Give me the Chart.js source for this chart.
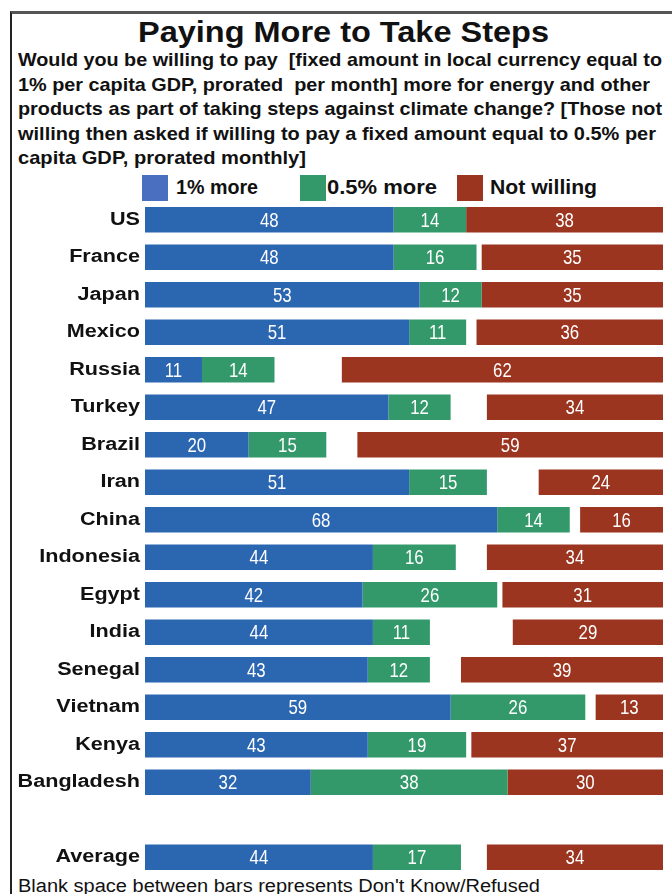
<!DOCTYPE html>
<html>
<head>
<meta charset="utf-8">
<script src="https://cdn.jsdelivr.net/npm/chart.js@4/dist/chart.umd.min.js"></script>
<style>
  html, body { margin: 0; padding: 0; background: #fff; }
  body { width: 672px; height: 894px; position: relative; overflow: hidden; font-family: "Liberation Sans", Arial, sans-serif; color: #111; }
  #frame { position: absolute; left: 10px; top: 11px; width: 680px; height: 900px; border-top: 3px solid #555; border-left: 2px solid #222; }
  .t { position: absolute; white-space: nowrap; transform-origin: left top; }
  #title { top: 18px; font-weight: bold; font-size: 29px; line-height: 29px; }
  .sub { left: 18px; font-weight: bold; font-size: 18.5px; line-height: 24.5px; }
  .lg { top: 177px; font-weight: bold; font-size: 20px; line-height: 20px; }
  .sq { position: absolute; top: 175px; width: 26px; height: 26px; }
  #foot { left: 18px; top: 877px; font-size: 18px; line-height: 18px; }
  #wrap { position: absolute; left: 0; top: 0; width: 672px; height: 894px; }
</style>
</head>
<body>
<div id="frame"></div>
<div id="title" class="t" data-w="411" style="left:138px">Paying More to Take Steps</div>
<div class="t sub" data-w="644" style="top:48px">Would you be willing to pay&nbsp; [fixed amount in local currency equal to</div>
<div class="t sub" data-w="632" style="top:72.5px">1% per capita GDP, prorated&nbsp; per month] more for energy and other</div>
<div class="t sub" data-w="644" style="top:97px">products as part of taking steps against climate change? [Those not</div>
<div class="t sub" data-w="638" style="top:121.5px">willing then asked if willing to pay a fixed amount equal to 0.5% per</div>
<div class="t sub" data-w="288" style="top:146px">capita GDP, prorated monthly]</div>
<div class="sq" style="left:142px;background:#4a6fc0"></div>
<div class="t lg" data-w="82" style="left:176px">1% more</div>
<div class="sq" style="left:300px;background:#33996a"></div>
<div class="t lg" data-w="110" style="left:327px">0.5% more</div>
<div class="sq" style="left:457px;background:#9b3520"></div>
<div class="t lg" data-w="107" style="left:490px">Not willing</div>
<div id="foot" class="t" data-w="522">Blank space between bars represents Don't Know/Refused</div>
<div id="wrap"><canvas id="chart"></canvas></div>
<script>
const countries = ['US', 'France', 'Japan', 'Mexico', 'Russia', 'Turkey', 'Brazil', 'Iran', 'China',
    'Indonesia', 'Egypt', 'India', 'Senegal', 'Vietnam', 'Kenya', 'Bangladesh', '', 'Average'];
const onePercent = [48, 48, 53, 51, 11, 47, 20, 51, 68, 44, 42, 44, 43, 59, 43, 32, null, 44];
const halfPercent = [14, 16, 12, 11, 14, 12, 15, 15, 14, 16, 26, 11, 12, 26, 19, 38, null, 17];
const dontKnow = [0, 1, 0, 2, 13, 7, 6, 10, 2, 6, 1, 16, 6, 2, 1, 0, null, 5];
const notWilling = [38, 35, 35, 36, 62, 34, 59, 24, 16, 34, 31, 29, 39, 13, 37, 30, null, 34];

const BLUE = '#2b66b1';
const GREEN = '#33996a';
const RED = '#9b3520';

// stretch the html text to the widths seen in the reference
document.querySelectorAll('[data-w]').forEach(el => {
    const w = el.getBoundingClientRect().width;
    el.style.transform = `scaleX(${Number(el.dataset.w) / w})`;
});

// category names, drawn a bit wide like the original
const rowLabels = {
    id: 'rowLabels',
    afterDraw(chart) {
        const ctx = chart.ctx;
        const yScale = chart.scales.y;
        ctx.save();
        ctx.fillStyle = '#111';
        ctx.font = 'bold 18px "Liberation Sans", Arial, sans-serif';
        ctx.textAlign = 'right';
        ctx.textBaseline = 'middle';
        countries.forEach((name, i) => {
            if (!name) return;
            ctx.save();
            ctx.translate(140, yScale.getPixelForValue(i));
            ctx.scale(1.2, 1);
            ctx.fillText(name, 0, 0);
            ctx.restore();
        });
        ctx.restore();
    }
};

const barLabels = {
    id: 'barLabels',
    afterDatasetsDraw(chart) {
        const ctx = chart.ctx;
        ctx.save();
        ctx.fillStyle = '#fff';
        ctx.font = '21px "Liberation Sans", Arial, sans-serif';
        ctx.textAlign = 'center';
        ctx.textBaseline = 'middle';
        chart.data.datasets.forEach((ds, i) => {
            if (ds.hideLabel) return;
            chart.getDatasetMeta(i).data.forEach((bar, j) => {
                const v = ds.data[j];
                if (v == null) return;
                ctx.save();
                ctx.translate((bar.x + bar.base) / 2, bar.y + 1);
                ctx.scale(0.8, 1);
                ctx.fillText(v, 0, 0);
                ctx.restore();
            });
        });
        ctx.restore();
    }
};

const common = { barPercentage: 0.68, categoryPercentage: 1, borderWidth: 0 };

new Chart(document.getElementById('chart'), {
    type: 'bar',
    data: {
        labels: countries,
        datasets: [
            { label: '1% more', data: onePercent, backgroundColor: BLUE, ...common },
            { label: '0.5% more', data: halfPercent, backgroundColor: GREEN, ...common },
            { label: "Don't know", data: dontKnow, backgroundColor: 'rgba(0,0,0,0)', hideLabel: true, ...common },
            { label: 'Not willing', data: notWilling, backgroundColor: RED, ...common }
        ]
    },
    options: {
        indexAxis: 'y',
        responsive: true,
        maintainAspectRatio: false,
        animation: false,
        layout: { padding: { top: 201, bottom: 18, left: 0, right: 9 } },
        plugins: {
            legend: { display: false },
            tooltip: { enabled: false }
        },
        scales: {
            x: { stacked: true, min: 0, max: 100, display: false },
            y: {
                stacked: true,
                grid: { display: false },
                border: { display: false },
                ticks: { display: false },
                afterFit(scale) { scale.width = 145; }
            }
        }
    },
    plugins: [barLabels, rowLabels]
});
</script>
</body>
</html>
